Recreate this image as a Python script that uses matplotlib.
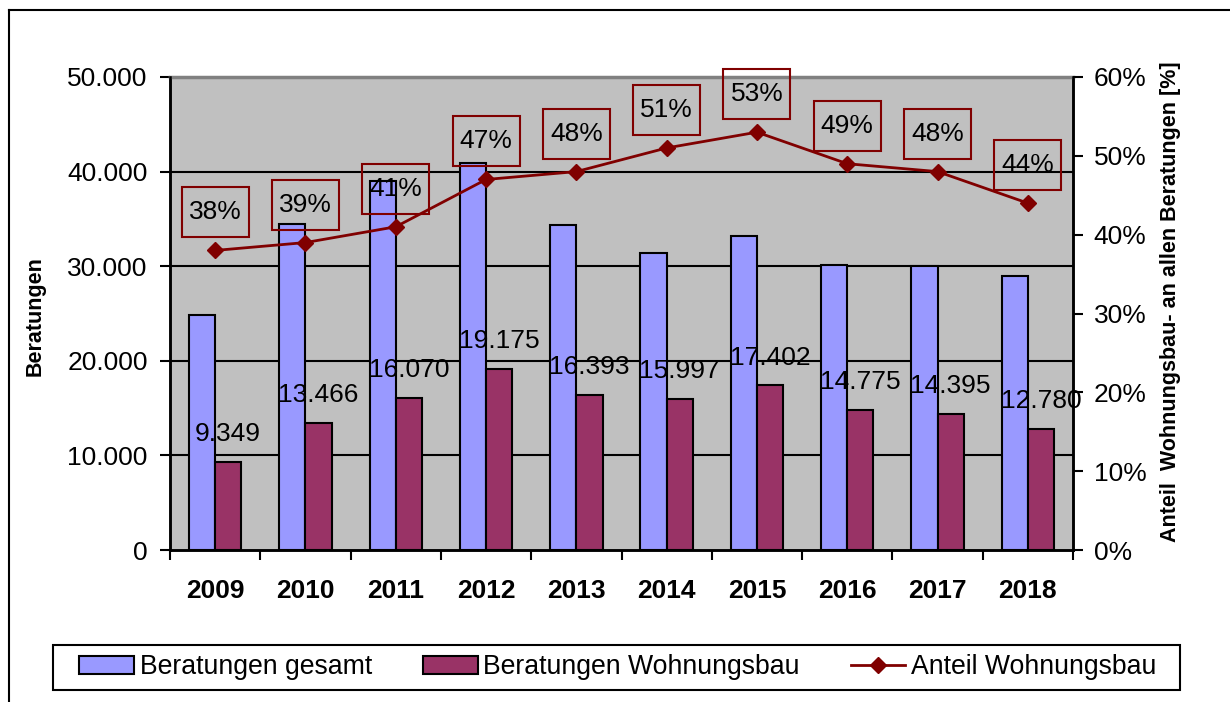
import matplotlib.pyplot as plt
from matplotlib.lines import Line2D
from matplotlib.patches import Patch, Rectangle
from matplotlib.ticker import FuncFormatter, FixedLocator
from matplotlib.transforms import ScaledTranslation
import numpy as np

plt.rcParams['font.family'] = ['Liberation Sans', 'DejaVu Sans']

# data
jahre = ['2009', '2010', '2011', '2012', '2013', '2014', '2015', '2016', '2017', '2018']
gesamt = [24800, 34500, 39000, 40900, 34400, 31400, 33200, 30100, 30000, 29000]
wohnungsbau = [9349, 13466, 16070, 19175, 16393, 15997, 17402, 14775, 14395, 12780]
anteil = [0.38, 0.39, 0.41, 0.47, 0.48, 0.51, 0.53, 0.49, 0.48, 0.44]

c_ges = '#9999FF'
c_wb = '#993366'
c_line = '#800000'
fs = 19

fig = plt.figure(figsize=(12.3, 7.02), dpi=100)
ax = fig.add_axes([170/1230, 152/702, 903/1230, 473/702])
ax.set_facecolor('#C0C0C0')

x = np.arange(len(jahre))
w = 0.29
ax.bar(x - w/2, gesamt, w, color=c_ges, edgecolor='black', linewidth=1.5, zorder=2)
ax.bar(x + w/2, wohnungsbau, w, color=c_wb, edgecolor='black', linewidth=1.5, zorder=2)

for xi, v in zip(x, wohnungsbau):
    lab = f'{v:,}'.replace(',', '.')
    ax.annotate(lab, (xi + w/2, v), xytext=(0, 20), textcoords='offset points',
                ha='center', va='center', fontsize=fs, zorder=5)

ax.set_xlim(-0.5, len(jahre) - 0.5)
ax.set_ylim(0, 50000)
ax.set_yticks(np.arange(0, 50001, 10000))
ax.yaxis.set_major_formatter(FuncFormatter(lambda v, p: f'{int(v):,}'.replace(',', '.')))
for yv in range(10000, 50000, 10000):
    ax.axhline(yv, color='black', linewidth=1.5, zorder=1)

ax.xaxis.set_major_locator(FixedLocator(np.arange(-0.5, len(jahre), 1.0)))
ax.xaxis.set_minor_locator(FixedLocator(x))
ax.set_xticklabels([], minor=False)
ax.set_xticklabels(jahre, minor=True, fontweight='bold', fontsize=fs)
ax.tick_params(axis='x', which='major', length=7, width=1.5, direction='out')
ax.tick_params(axis='x', which='minor', length=0, pad=21)
ax.tick_params(axis='y', length=7, width=1.5, labelsize=fs, pad=9)

for s in ['left', 'bottom', 'right']:
    ax.spines[s].set_linewidth(1.8)
    ax.spines[s].set_color('black')
ax.spines['top'].set_color('#808080')
ax.spines['top'].set_linewidth(2.5)

ax.set_ylabel('Beratungen', fontsize=15.5, fontweight='bold')
ax.yaxis.set_label_coords(-0.138, 0.494)

ax2 = ax.twinx()
ax2.plot(x, anteil, color=c_line, linewidth=2, marker='D', markersize=8, zorder=4)
ax2.set_ylim(0, 0.6)
ax2.set_yticks(np.arange(0, 0.61, 0.1))
ax2.yaxis.set_major_formatter(FuncFormatter(lambda v, p: f'{v*100:.0f}%'))
ax2.tick_params(axis='y', length=7, width=1.5, labelsize=fs, pad=8)
for s in ['left', 'bottom', 'right']:
    ax2.spines[s].set_linewidth(1.8)
ax2.spines['top'].set_visible(False)
ax2.set_ylabel('Anteil  Wohnungsbau- an allen Beratungen [%]', fontsize=15.5, fontweight='bold')
ax2.yaxis.set_label_coords(1.096, 0.526)

# percentage labels with framed boxes (box 67x50 px, centred 38 px above the point)
bw, bh, off = 0.67, 0.50, 0.38
for xi, v in zip(x, anteil):
    ax2.annotate(f'{v*100:.0f}%', (xi, v), xytext=(0, off * 72), textcoords='offset points',
                 ha='center', va='center', fontsize=fs, zorder=6)
    tr = fig.dpi_scale_trans + ScaledTranslation(xi, v, ax2.transData)
    ax2.add_patch(Rectangle((-bw/2, off - bh/2), bw, bh, transform=tr, facecolor='none',
                            edgecolor=c_line, linewidth=1.5, zorder=6, clip_on=False))

handles = [Patch(facecolor=c_ges, edgecolor='black', linewidth=1.5),
           Patch(facecolor=c_wb, edgecolor='black', linewidth=1.5),
           Line2D([], [], color=c_line, linewidth=2, marker='D', markersize=8)]
leg = fig.legend(handles, ['Beratungen gesamt', 'Beratungen Wohnungsbau', 'Anteil Wohnungsbau'],
                 loc='center', bbox_to_anchor=(618/1230, 34.5/702), ncol=3, fontsize=19.2,
                 frameon=False, handlelength=2.05, handleheight=0.65,
                 handletextpad=0.22, columnspacing=1.9, borderpad=0.3)
# legend frame, wider than the entries as in the original
fig.add_artist(Rectangle((53/1230, 12/702), 1127/1230, 45/702, transform=fig.transFigure,
                         facecolor='none', edgecolor='black', linewidth=1.5))

# outer chart frame (left and top edges visible)
fig.add_artist(Line2D([9/1230, 9/1230], [0, 1 - 10/702], color='black', linewidth=1.5,
                      transform=fig.transFigure))
fig.add_artist(Line2D([9/1230, 1], [1 - 10/702, 1 - 10/702], color='black', linewidth=1.5,
                      transform=fig.transFigure))

fig.savefig('out.png', dpi=100)
